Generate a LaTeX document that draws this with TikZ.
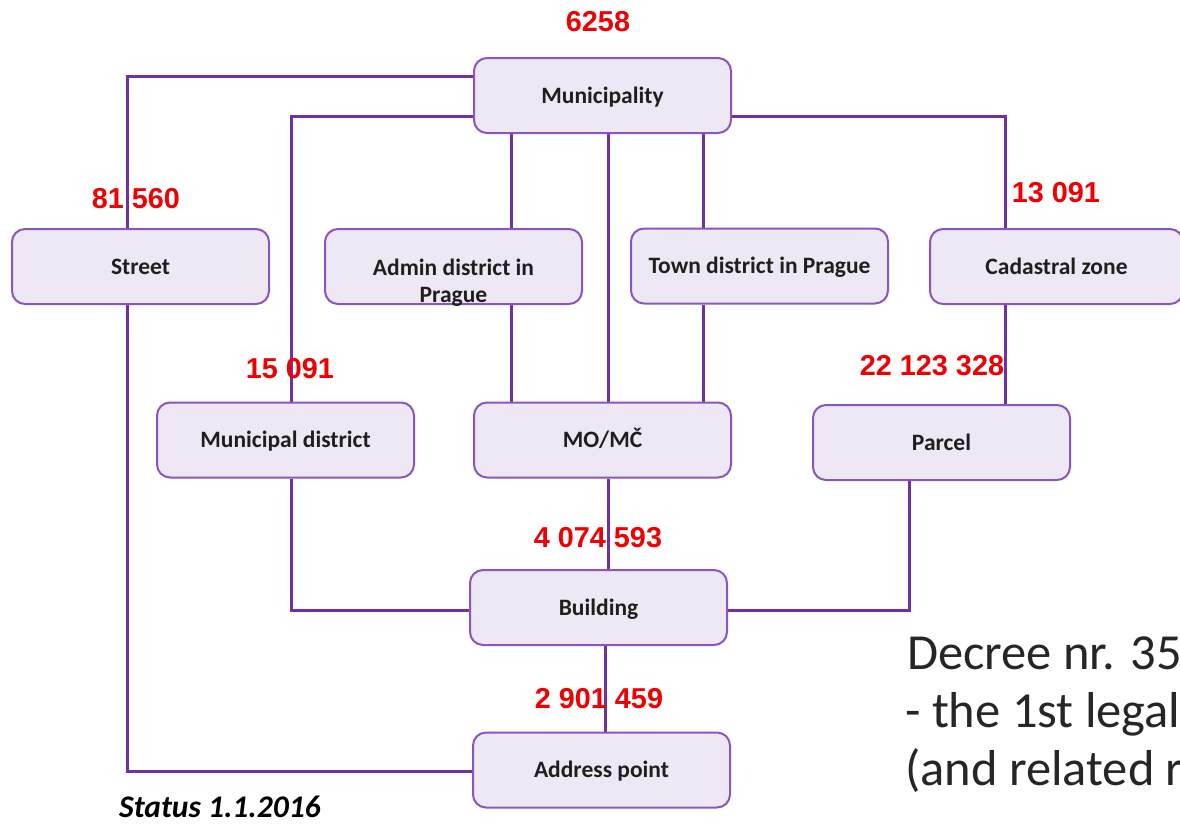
\documentclass[tikz,border=0pt]{standalone}
\usepackage{fontspec}
\setmainfont{Carlito}
\newfontfamily\arialfont{Liberation Sans}
\usetikzlibrary{backgrounds}
\definecolor{linepurple}{HTML}{7030A0}
\definecolor{boxpurple}{HTML}{8A55BE}
\definecolor{boxfill}{HTML}{EEE8F4}
\definecolor{numred}{HTML}{F00000}
\begin{document}
\begin{tikzpicture}[x=1pt,y=-1pt,
  conn/.style={draw=linepurple, line width=3pt},
  box/.style={draw=boxpurple, fill=boxfill, line width=2pt, rounded corners=13pt,
    minimum width=257pt, minimum height=75pt, inner sep=0pt,
    text height=15pt, text depth=0pt,
    font=\fontsize{23.5}{27}\selectfont\bfseries, text=black!88, align=center},
  boxtext/.style={inner sep=0pt, font=\fontsize{23.5}{27}\selectfont\bfseries, text=black!88, align=center},
  num/.style={inner sep=0pt, font=\arialfont\fontsize{28.8}{30}\selectfont\bfseries, text=numred},
  decree/.style={inner sep=0pt, anchor=base west, font=\fontsize{50.5}{52}\selectfont, text=black!85}]
\useasboundingbox (0,0) rectangle (1180,823);
\clip (0,0) rectangle (1180,823);

\path
  (602.5,95.5)  node[box] (muni) {Municipality}
  (140.5,266.5) node[box] (street) {Street}
  (453.5,266.5) node[box] (admin) {}
  (759.5,266)   node[box] (town) {Town district in Prague}
  (1056.5,266.5) node[box, minimum width=253pt] (cad) {Cadastral zone}
  (285.5,440)   node[box] (mdist) {Municipal district}
  (602.5,440)   node[box] (momc) {MO/MČ}
  (941.5,442.5) node[box] (parcel) {Parcel}
  (598.5,607.5) node[box] (build) {Building}
  (601.5,770)   node[box] (addr) {Address point};
\node[boxtext] (admintxt) at (453.5,283) {Admin district in\\Prague};

\begin{scope}[on background layer]
\fill[white] (0,0) rectangle (1180,823);
\draw[conn] (muni.west |- 0,76) -| (street.north -| 127,0);
\draw[conn] (street.south -| 127,0) |- (addr.west |- 0,771);
\draw[conn] (muni.west |- 0,116) -| (mdist.north -| 291,0);
\draw[conn] (muni.south -| 511,0) -- (admin.north -| 511,0);
\draw[conn] (muni.south -| 608,0) -- (momc.north -| 608,0);
\draw[conn] (muni.south -| 703,0) -- (town.north -| 703,0);
\draw[conn] (muni.east |- 0,116) -| (cad.north -| 1005,0);
\draw[conn] (admin.south -| 511,0) -- (momc.north -| 511,0);
\draw[conn] (town.south -| 703,0) -- (momc.north -| 703,0);
\draw[conn] (cad.south -| 1005,0) -- (parcel.north -| 1005,0);
\draw[conn] (mdist.south -| 291,0) |- (build.west |- 0,610);
\draw[conn] (parcel.south -| 909,0) |- (build.east |- 0,610);
\draw[conn] (momc.south -| 608,0) -- (build.north -| 608,0);
\draw[conn] (build.south -| 605,0) -- (addr.north -| 605,0);
\end{scope}

\node[num] (n1) at (598,22) {6258};
\node[num] (n2) at (136,199) {81 560};
\node[num] (n3) at (1056,193) {13 091};
\node[num] (n4) at (290,369) {15 091};
\node[num] (n5) at (932,366) {22 123 328};
\node[num] (n6) at (598,538) {4 074 593};
\node[num] (n7) at (599,699) {2 901 459};

\node[decree] (d1) at (907,669) {Decree nr. 35};
\node[decree] (d2) at (905,727) {- the 1st legal};
\node[decree] (d3) at (905,785) {(and related r};

\node[inner sep=0pt, anchor=base west, font=\fontsize{31.5}{33}\selectfont\bfseries\itshape] (status) at (119,817) {Status 1.1.2016};
\end{tikzpicture}
\end{document}
